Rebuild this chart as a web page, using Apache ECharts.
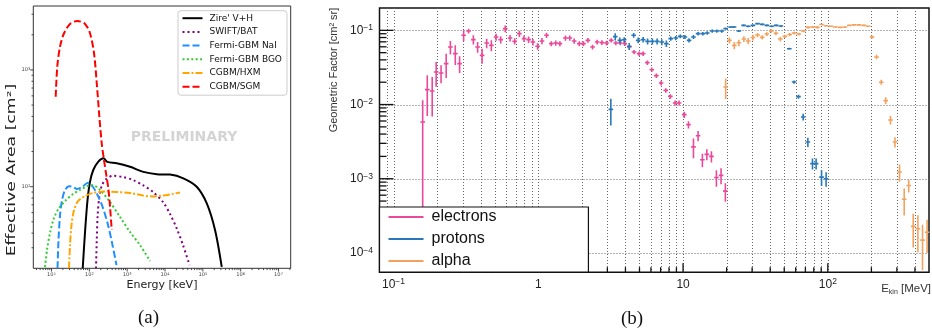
<!DOCTYPE html>
<html><head><meta charset="utf-8">
<script src="https://cdn.jsdelivr.net/npm/echarts@6/dist/echarts.min.js"></script>
<style>html,body{margin:0;padding:0;background:#fff}#c{width:932px;height:332px}</style>
</head><body><div id="c"></div>
<script>
// ---------- Panel (a): effective area [cm^2] vs energy [keV] ----------
const zireE = [66.8, 76.9, 89.5, 104, 127, 173, 237, 299, 529, 1190, 2670, 6040, 13600, 30500, 68900, 127000, 210000, 316000];
const zireA = [20, 40.9, 76.9, 110, 139, 164, 175, 163, 159, 148, 134, 128, 127, 118, 100, 72, 42.6, 20.6];
const batE = [150, 157, 166, 186, 216, 276, 423, 776, 1430, 2620, 4820, 8850, 13600, 20700, 29900, 44500];
const batA = [20, 34.9, 57.1, 84.9, 103, 116, 124, 121, 114, 103, 90.1, 73.9, 58.3, 43.4, 31.6, 21.3];
const naiE = [14.4, 15.3, 16.8, 19.0, 22.8, 29.0, 37.0, 47.2, 64.0, 92.2, 125, 170, 230, 312, 398, 523];
const naiA = [20, 34.9, 57.1, 76.9, 93.7, 101, 99.4, 95.5, 99.4, 108, 99.4, 83.2, 65.6, 47.0, 33.0, 21.3];
const bgoE = [6.73, 7.60, 9.12, 11.6, 15.8, 24.2, 37.0, 56.6, 86.7, 125, 191, 352, 647, 1190, 2180, 4020];
const bgoA = [20.5, 28.7, 40.1, 53.9, 65.6, 76.9, 86.5, 93.7, 101, 103, 93.7, 73.9, 55.0, 40.9, 31.6, 23.1];
const hxmE = [29.0, 30.8, 33.8, 39.4, 50.2, 76.9, 125, 230, 538, 1190, 2620, 4820, 8850, 15300, 24900];
const hxmA = [20, 31.6, 47.0, 63.1, 75.3, 83.2, 88.3, 91.0, 90.1, 88.3, 84.1, 82.4, 84.1, 86.5, 89.1];
const sgmE = [12.9, 14.2, 16.8, 21.4, 30.8, 48.1, 76.9, 104, 133, 157, 184, 212, 244, 276, 317, 352, 390];
const sgmA = [590, 1067, 1585, 2062, 2477, 2630, 2477, 2062, 1390, 769, 398, 236, 169, 130, 97, 67.5, 42.6];
const aNames = ["Zire' V+H", 'SWIFT/BAT', 'Fermi-GBM NaI', 'Fermi-GBM BGO', 'CGBM/HXM', 'CGBM/SGM'];
const aTicksX = [10, 100, 1e3, 1e4, 1e5, 1e6, 1e7];
const aTicksY = [100, 1000];

// ---------- Panel (b): geometric factor [cm^2 sr] vs E_kin [MeV] ----------
const elecE = [0.159,0.171,0.185,0.197,0.213,0.231,0.247,0.267,0.286,0.305,
  0.330,0.356,0.381,0.409,0.44,0.474,0.511,0.55,0.591,0.638,
  0.687,0.74,0.797,0.857,0.918,0.989,1.06,1.14,1.23,1.32,
  1.41,1.54,1.65,1.77,1.92,2.05,2.20,2.37,2.55,2.75,
  2.96,3.19,3.43,3.68,3.96,4.25,4.59,4.97,5.30,5.67,
  6.08,6.54,7.05,7.6,8.17,8.81,9.38,10.2,10.9,11.8,
  12.7,13.6,14.6,15.7,17.0,18.3,19.6];
const elecG = [0.00581,0.0159,0.0152,0.0274,0.0266,0.0356,0.0596,0.0485,0.0356,0.0857,
  0.098,0.075,0.0596,0.046,0.0674,0.0628,0.0813,0.075,0.1055,0.0787,
  0.0711,0.0902,0.0773,0.075,0.0695,0.0609,0.0718,0.0857,0.0662,0.0674,
  0.0662,0.0787,0.0787,0.0718,0.0662,0.0662,0.0733,0.0596,0.0695,0.0683,
  0.0674,0.0733,0.0674,0.0674,0.0662,0.0596,0.051,0.0485,0.0485,0.0367,
  0.0295,0.0245,0.0195,0.0155,0.0129,0.0105,0.0105,0.00731,0.00536,0.00269,
  0.00379,0.0018,0.00213,0.002,0.00104,0.00111,0.00068];
const elecErr = [0.0056,0.0089,0.0083,0.010,0.0072,0.0129,0.0122,0.0143,0.009,0.0143,
  0.007,0.0107,0.0099,0.0106,0.0099,0.0105,0.0089,0.0085,0.011,0.0078,
  0.0069,0.0088,0.0076,0.0074,0.0068,0.006,0.007,0.0068,0.0053,0.0054,
  0.0053,0.0063,0.0063,0.0057,0.005,0.005,0.0055,0.0045,0.005,0.005,
  0.0048,0.005,0.0045,0.0045,0.0045,0.004,0.0035,0.0033,0.0033,0.0026,
  0.0021,0.0017,0.0014,0.0011,0.0009,0.0008,0.0008,0.0007,0.0006,0.0008,
  0.0006,0.00037,0.00036,0.00034,0.00026,0.00027,0.00019];
const protE = [3.17,3.40,3.66,3.92,4.25,4.56,4.90,5.30,5.69,6.14,6.62,
  7.13,7.67,8.22,8.91,9.57,10.3,11.0,11.8,12.7,13.7,
  14.7,15.9,17.1,18.5,19.7,21.3,22.5,24.3,26.2,28.2,
  30.4,32.7,35.2,37.9,40.9,44.0,47.4,
  54.2,58.5,62.7,67.6,72.8,78.4,83.0,90.5,97.3];
const protG = [0.0086,0.0822,0.0733,0.0745,0.0609,0.0857,0.0733,0.075,0.0711,0.0711,0.0711,
  0.0695,0.0662,0.0773,0.0787,0.083,0.0813,0.0733,0.0813,0.0902,0.0902,
  0.092,0.098,0.098,0.098,0.1055,0.1107,0.1107,0.098,0.1167,0.1133,
  0.1167,0.123,0.1205,0.1167,0.1133,0.1167,0.1143,
  0.0566,0.0201,0.0128,0.00679,0.00313,0.0016,0.0016,0.00105,0.001];
const protErr = [0.0034,0.009,0.0065,0.0065,0.0065,0.0065,0.0065,0.0065,0.0065,0.0065,0.0065,
  0.0065,0.0065,0.005,0.005,0.005,0.005,0.005,0.005,0.005,0.005,
  0.005,0.005,0.005,0.005,0.003,0.003,0.003,0.003,0.003,0.003,
  0.003,0.003,0.003,0.003,0.003,0.003,0.003,
  0.0015,0.001,0.0008,0.0007,0.00045,0.00027,0.00027,0.00025,0.00022];
const alphaE = [19.7,20.9,22.6,24.3,26.3,28.2,30.4,32.7,35.2,37.9,40.7,
  43.8,47.0,50.5,54.6,58.6,63.1,67.8,73.0,78.5,84.7,
  90.6,97.3,105,113,122,131,141,152,164,177,
  190,202,217,234,251,271,291,313,337,362,
  389,419,451,485];
const alphaG = [0.0172,0.0733,0.0628,0.0679,0.0764,0.0718,0.08,0.0865,0.0805,0.0891,0.098,
  0.0912,0.0764,0.083,0.0878,0.092,0.0891,0.098,0.1097,0.1107,0.1097,
  0.1197,0.1151,0.1133,0.1107,0.1097,0.1107,0.1167,0.1186,0.1186,0.1167,
  0.1133,0.0813,0.0437,0.02,0.0113,0.00618,0.00313,0.00123,0.00053,0.00081,
  0.000228,0.000212,0.000149,0.00019];
const alphaErr = [0.0053,0.007,0.007,0.007,0.007,0.007,0.007,0.0055,0.0055,0.0055,0.0055,
  0.0055,0.0055,0.004,0.004,0.004,0.004,0.004,0.004,0.004,0.004,
  0.002,0.002,0.002,0.002,0.002,0.002,0.002,0.002,0.002,0.002,
  0.002,0.004,0.003,0.0015,0.0012,0.0008,0.0005,0.00032,0.00021,0.00016,
  0.00011,0.00011,0.00009,0.00009];
const bNames = ['electrons', 'protons', 'alpha'];
const bTicksX = [0.1, 1, 10, 100];
const bTicksY = [1e-4, 1e-3, 1e-2, 1e-1];

// ---------- styling ----------
const SANS = "'Liberation Sans', Arial, sans-serif";
const DV = "'DejaVu Sans', sans-serif";
const C_E = '#e9489b', C_P = '#2878b8', C_A = '#f2a25e';
const AX = {xmin: 3.3, xmax: 2.1e7, ymin: 20, ymax: 3530};
const BX = {xmin: 0.08, xmax: 500, ymin: 5.5e-5, ymax: 0.2};

function minors(lo, hi) {
  const out = [];
  for (let e = -6; e <= 8; e++) for (let m = 2; m <= 9; m++) {
    const v = m * Math.pow(10, e);
    if (v > lo * 1.0001 && v < hi * 0.9999) out.push(v);
  }
  return out;
}
function dec(v) { const l = Math.log10(v); return Math.abs(l - Math.round(l)) < 1e-6 ? Math.round(l) : null; }

function vLines(gi, vals, anchor, style, z) {
  return {type: 'custom', xAxisIndex: gi, yAxisIndex: gi, silent: true, z: z, clip: false,
    data: vals.map(v => [v, anchor]),
    renderItem: (p, api) => {
      const cs = p.coordSys; const x = Math.round(api.coord([api.value(0), api.value(1)])[0]) + 0.5;
      return {type: 'line', shape: {x1: x, y1: cs.y, x2: x, y2: cs.y + cs.height}, style: style};
    }};
}
function hLines(gi, vals, anchor, style, z) {
  return {type: 'custom', xAxisIndex: gi, yAxisIndex: gi, silent: true, z: z, clip: false,
    data: vals.map(v => [anchor, v]),
    renderItem: (p, api) => {
      const cs = p.coordSys; const y = Math.round(api.coord([api.value(0), api.value(1)])[1]) + 0.5;
      return {type: 'line', shape: {x1: cs.x, y1: y, x2: cs.x + cs.width, y2: y}, style: style};
    }};
}
function xTicks(gi, vals, anchor, len, dir, style, z) {
  return {type: 'custom', xAxisIndex: gi, yAxisIndex: gi, silent: true, z: z, clip: false,
    data: vals.map(v => [v, anchor]),
    renderItem: (p, api) => {
      const cs = p.coordSys; const x = api.coord([api.value(0), api.value(1)])[0]; const yb = cs.y + cs.height;
      return {type: 'line', shape: {x1: x, y1: yb, x2: x, y2: yb + dir * len}, style: style};
    }};
}
function yTicks(gi, vals, anchor, len, dir, style, z) {
  return {type: 'custom', xAxisIndex: gi, yAxisIndex: gi, silent: true, z: z, clip: false,
    data: vals.map(v => [anchor, v]),
    renderItem: (p, api) => {
      const cs = p.coordSys; const y = api.coord([api.value(0), api.value(1)])[1];
      return {type: 'line', shape: {x1: cs.x, y1: y, x2: cs.x + dir * len, y2: y}, style: style};
    }};
}
function errSeries(name, E, G, Er, color) {
  return {name: name, type: 'custom', xAxisIndex: 1, yAxisIndex: 1, z: 3, clip: true,
    itemStyle: {color: color},
    data: E.map((v, i) => [v, G[i], Er[i]]),
    renderItem: (p, api) => {
      const x = api.value(0), y = api.value(1), e = api.value(2);
      const c = api.coord([x, y]), t = api.coord([x, y + e]);
      const b = api.coord([x, y - e > 0 ? y - e : 1e-9]);
      const cs = p.coordSys; const bb = Math.min(b[1], cs.y + cs.height + 2);
      const st = {stroke: color, lineWidth: 1.6};
      return {type: 'group', children: [
        {type: 'line', shape: {x1: c[0], y1: t[1], x2: c[0], y2: bb}, style: st},
        {type: 'line', shape: {x1: c[0] - 2.3, y1: c[1], x2: c[0] + 2.3, y2: c[1]}, style: st}
      ]};
    }};
}
function lineSeries(name, E, A, color, dash, w) {
  return {name: name, type: 'line', xAxisIndex: 0, yAxisIndex: 0, z: 2,
    data: E.map((v, i) => [v, A[i]]), showSymbol: false, symbol: 'none', smooth: 0.3,
    lineStyle: {color: color, width: w || 2, type: dash || 'solid', cap: 'butt'},
    itemStyle: {color: color}};
}

const aSup = {b: {fontSize: 5.2, fontFamily: DV, color: '#444', lineHeight: 6}, s: {fontSize: 3.6, fontFamily: DV, color: '#444', verticalAlign: 'top', lineHeight: 3.5}};
const bRich = {b: {fontSize: 12, fontFamily: SANS, color: '#222', lineHeight: 14}, s: {fontSize: 8.5, fontFamily: SANS, color: '#222', verticalAlign: 'top', lineHeight: 8}};

const tickA = {stroke: '#333', lineWidth: 0.9};
const tickB = {stroke: '#111', lineWidth: 1.3};
const gridB = {stroke: '#666', lineWidth: 1, lineDash: [1, 2]};

const option = {
  animation: false,
  backgroundColor: '#fff',
  grid: [
    {left: 33.3, top: 6, width: 257.4, height: 262.3, show: true, borderColor: '#333', borderWidth: 1, backgroundColor: 'transparent'},
    {left: 379.5, top: 8, width: 550.5, height: 264.2, show: true, borderColor: '#111', borderWidth: 1.5, backgroundColor: 'transparent'}
  ],
  xAxis: [
    {type: 'log', logBase: 10, gridIndex: 0, min: AX.xmin, max: AX.xmax,
      axisLine: {show: false}, axisTick: {show: false}, splitLine: {show: false},
      axisLabel: {margin: 3.5, rich: aSup, formatter: v => { const e = dec(v); return e === null ? '' : '{b|10}{s|' + e + '}'; }}},
    {type: 'log', logBase: 10, gridIndex: 1, min: BX.xmin, max: BX.xmax,
      axisLine: {show: false}, axisTick: {show: false}, splitLine: {show: false},
      axisLabel: {margin: 5, rich: bRich, formatter: v => { const e = dec(v); if (e === null) return '';
        if (e === 0) return '{b|1}'; if (e === 1) return '{b|10}'; return '{b|10}{s|' + (e < 0 ? '\u2212' + (-e) : e) + '}'; }}}
  ],
  yAxis: [
    {type: 'log', logBase: 10, gridIndex: 0, min: AX.ymin, max: AX.ymax,
      axisLine: {show: false}, axisTick: {show: false}, splitLine: {show: false},
      axisLabel: {margin: 3, rich: aSup, formatter: v => { const e = dec(v); return e === null ? '' : '{b|10}{s|' + e + '}'; }}},
    {type: 'log', logBase: 10, gridIndex: 1, min: BX.ymin, max: BX.ymax,
      axisLine: {show: false}, axisTick: {show: false}, splitLine: {show: false},
      axisLabel: {margin: 6.5, rich: bRich, formatter: v => { const e = dec(v); return e === null ? '' : '{b|10}{s|\u2212' + (-e) + '}'; }}}
  ],
  legend: [
    {left: 178, top: 10.7, orient: 'vertical', padding: [2, 5, 3, 3.5], itemGap: 2.7, itemWidth: 20, itemHeight: 11,
      backgroundColor: 'rgba(255,255,255,0.85)', borderColor: '#cccccc', borderWidth: 1, borderRadius: 3,
      itemStyle: {opacity: 0, borderWidth: 0},
      textStyle: {fontFamily: DV, fontSize: 9, color: '#111', lineHeight: 11, padding: [0, 0, 0, 2]},
      data: aNames, selectedMode: false},
    {left: 379.5, top: 207, orient: 'vertical', padding: [1, 92, 2, 9], itemGap: 4, itemWidth: 35, itemHeight: 2, icon: 'rect',
      backgroundColor: '#fff', borderColor: '#111', borderWidth: 1.2,
      textStyle: {fontFamily: SANS, fontSize: 16, color: '#111', lineHeight: 18, padding: [0, 0, 0, 3]},
      data: [{name: bNames[0], itemStyle: {color: C_E}}, {name: bNames[1], itemStyle: {color: C_P}}, {name: bNames[2], itemStyle: {color: C_A}}],
      selectedMode: false}
  ],
  graphic: [
    {type: 'text', x: 12.5, y: 170, rotation: Math.PI / 2, scaleX: 1.5, z: 10,
      style: {text: 'Effective Area [cm\u00b2]', fontFamily: DV, fontSize: 11.5, fill: '#222', align: 'center', verticalAlign: 'middle'}},
    {type: 'text', x: 162, y: 285.5, z: 10,
      style: {text: 'Energy [keV]', fontFamily: DV, fontSize: 11, fill: '#222', align: 'center', verticalAlign: 'middle'}},
    {type: 'text', x: 184, y: 137, z: 1,
      style: {text: 'PRELIMINARY', fontFamily: DV, fontSize: 14, fontWeight: 'bold', fill: '#d4d4d4', align: 'center', verticalAlign: 'middle'}},
    {type: 'text', x: 148.5, y: 318.5, z: 10,
      style: {text: '(a)', fontFamily: "'Liberation Serif', 'DejaVu Serif', serif", fontSize: 19, fill: '#111', align: 'center', verticalAlign: 'middle'}},
    {type: 'text', x: 632, y: 319, z: 10,
      style: {text: '(b)', fontFamily: "'Liberation Serif', 'DejaVu Serif', serif", fontSize: 19, fill: '#111', align: 'center', verticalAlign: 'middle'}},
    {type: 'text', x: 334, y: 70, rotation: Math.PI / 2, z: 10,
      style: {text: 'Geometric Factor [cm\u00b2 sr]', fontFamily: SANS, fontSize: 11, fill: '#333', align: 'center', verticalAlign: 'middle'}},
    {type: 'text', x: 931, y: 289, z: 10,
      style: {text: '{e|E}{k|kin}{e| [MeV]}', align: 'right', verticalAlign: 'middle',
        rich: {e: {fontFamily: SANS, fontSize: 11.5, fill: '#333', lineHeight: 14}, k: {fontFamily: SANS, fontSize: 7, fill: '#333', verticalAlign: 'bottom', lineHeight: 7}}}}
  ],
  series: [
    // panel (a) ticks
    xTicks(0, aTicksX, AX.ymin, 3.2, 1, tickA, 4),
    xTicks(0, minors(AX.xmin, AX.xmax), AX.ymin, 1.8, 1, tickA, 4),
    yTicks(0, aTicksY, AX.xmin, 3.2, -1, tickA, 4),
    yTicks(0, minors(AX.ymin, AX.ymax), AX.xmin, 1.8, -1, tickA, 4),
    // panel (a) curves
    lineSeries(aNames[0], zireE, zireA, '#000000', 'solid', 2),
    lineSeries(aNames[1], batE, batA, '#800080', [2, 3], 2),
    lineSeries(aNames[2], naiE, naiA, '#1e90ff', [7, 3], 2),
    lineSeries(aNames[3], bgoE, bgoA, '#32cd32', [2, 2.4], 2),
    lineSeries(aNames[4], hxmE, hxmA, '#ffa500', [7, 2, 2, 2], 2),
    lineSeries(aNames[5], sgmE, sgmA, '#ff0000', [7, 3], 2),
    // panel (b) grid
    vLines(1, bTicksX.concat(minors(BX.xmin, BX.xmax)), BX.ymin, gridB, 1),
    hLines(1, bTicksY, BX.xmin, gridB, 1),
    // panel (b) ticks (inside)
    xTicks(1, bTicksX, BX.ymin, 9, -1, tickB, 2),
    xTicks(1, minors(BX.xmin, BX.xmax), BX.ymin, 5, -1, tickB, 2),
    yTicks(1, bTicksY, BX.xmin, 14, 1, tickB, 2),
    yTicks(1, minors(BX.ymin, BX.ymax), BX.xmin, 7, 1, tickB, 2),
    // panel (b) data
    errSeries(bNames[0], elecE, elecG, elecErr, C_E),
    errSeries(bNames[1], protE, protG, protErr, C_P),
    errSeries(bNames[2], alphaE, alphaG, alphaErr, C_A)
  ]
};
const chart = echarts.init(document.getElementById('c'));
chart.setOption(option);
</script>
</body></html>
